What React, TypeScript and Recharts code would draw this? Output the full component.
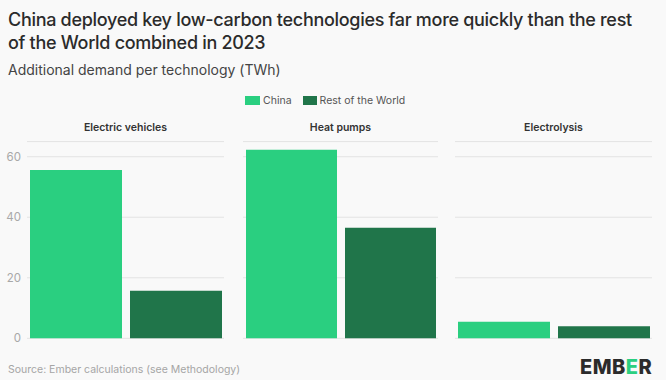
import { BarChart, Bar, XAxis, YAxis, CartesianGrid } from "recharts";

const technologies = ["Electric vehicles", "Heat pumps", "Electrolysis"];
const chinaValues = [55.6, 62.3, 5.5];
const restOfWorldValues = [15.7, 36.5, 4.0];
const yTicks = [0, 20, 40, 60];

const CHINA = "#2acf80";
const ROW = "#20754a";
const FONT = "Inter, 'Noto Sans', sans-serif";

// chart div placement for each small multiple
const panels = [
  { left: 0, width: 230, axis: true, marginLeft: 0, marginRight: 6 },
  { left: 237, width: 207, axis: false, marginLeft: 6, marginRight: 6 },
  { left: 449, width: 209, axis: false, marginLeft: 6, marginRight: 6 },
];

function Panel({ index }: { index: number }) {
  const p = panels[index];
  const data = [{ tech: technologies[index], china: chinaValues[index], row: restOfWorldValues[index] }];
  return (
    <div style={{ position: "absolute", left: p.left, top: 136 }}>
      <BarChart
        width={p.width}
        height={210}
        data={data}
        margin={{ top: 5.6, right: p.marginRight, bottom: 7.7, left: p.marginLeft }}
        barCategoryGap={3}
        barGap={8}
      >
        <CartesianGrid vertical={false} stroke="#e3e3e3" />
        <XAxis dataKey="tech" hide />
        <YAxis
          domain={[0, 65]}
          ticks={yTicks}
          hide={!p.axis}
          width={27}
          axisLine={false}
          tickLine={false}
          tickSize={4}
          tick={{ fill: "#a8a8a8", fontSize: 11.5, fontFamily: FONT }}
        />
        <Bar dataKey="china" fill={CHINA} isAnimationActive={false} />
        <Bar dataKey="row" fill={ROW} isAnimationActive={false} />
      </BarChart>
    </div>
  );
}

const titleCenters = [125.5, 340.5, 553.5];

export default function App() {
  return (
    <div
      style={{
        position: "absolute",
        left: 0,
        top: 0,
        width: 666,
        height: 380,
        background: "#f9f9f9",
        fontFamily: FONT,
        overflow: "hidden",
      }}
    >
      <div
        style={{
          position: "absolute",
          left: 8,
          top: 8,
          width: 660,
          fontSize: 18,
          fontWeight: 500,
          lineHeight: "23px",
          color: "#2b2b2b",
          letterSpacing: -0.3,
        }}
      >
        China deployed key low-carbon technologies far more quickly than the rest
        <br />
        of the World combined in 2023
      </div>
      <div style={{ position: "absolute", left: 8, top: 61, fontSize: 14, color: "#444", whiteSpace: "nowrap" }}>
        Additional demand per technology (TWh)
      </div>

      <div style={{ position: "absolute", left: 245, top: 94, display: "flex", alignItems: "center", fontSize: 10.5, color: "#555" }}>
        <span style={{ display: "inline-block", width: 15, height: 9, background: CHINA, marginRight: 3 }} />
        <span>China</span>
        <span style={{ display: "inline-block", width: 14, height: 9, background: ROW, marginLeft: 11, marginRight: 3 }} />
        <span>Rest of the World</span>
      </div>

      {technologies.map((t, i) => (
        <div
          key={t}
          style={{
            position: "absolute",
            left: titleCenters[i] - 80,
            width: 160,
            top: 121,
            textAlign: "center",
            fontSize: 10.5,
            fontWeight: 600,
            color: "#333",
          }}
        >
          {t}
        </div>
      ))}

      <Panel index={0} />
      <Panel index={1} />
      <Panel index={2} />

      <div style={{ position: "absolute", left: 8, top: 363, fontSize: 10.5, color: "#a5a5a5", whiteSpace: "nowrap" }}>
        Source: Ember calculations (see Methodology)
      </div>
      <div
        style={{
          position: "absolute",
          left: 580,
          top: 355,
          fontSize: 20,
          fontWeight: 800,
          color: "#2b2b2b",
          letterSpacing: 0.5,
        }}
      >
        EMB<span style={{ color: CHINA }}>E</span>R
      </div>
    </div>
  );
}
